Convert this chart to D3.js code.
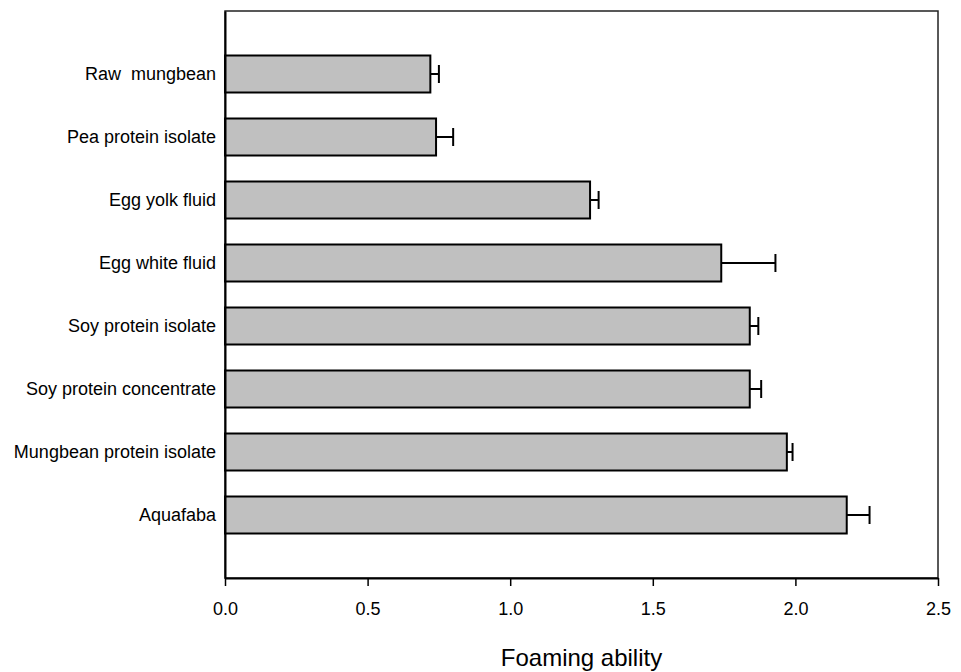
<!DOCTYPE html>
<html>
<head>
<meta charset="utf-8">
<script src="https://cdn.jsdelivr.net/npm/d3@7"></script>
<style>
  html, body { margin: 0; padding: 0; background: #fff; }
  text { font-family: "Liberation Sans", Arial, sans-serif; fill: #000; }
</style>
</head>
<body>
<svg id="chart" width="961" height="672"></svg>
<script>
// Foaming ability of protein sources (mean ± SD)
const categories = [
  "Raw  mungbean",
  "Pea protein isolate",
  "Egg yolk fluid",
  "Egg white fluid",
  "Soy protein isolate",
  "Soy protein concentrate",
  "Mungbean protein isolate",
  "Aquafaba"
];
const values = [0.72, 0.74, 1.28, 1.74, 1.84, 1.84, 1.97, 2.18];
const errors = [0.03, 0.06, 0.03, 0.19, 0.03, 0.04, 0.02, 0.08];
const xTicks = [0, 0.5, 1.0, 1.5, 2.0, 2.5];
const xTitle = "Foaming ability";

const svg = d3.select("#chart");
const plot = { left: 225, right: 938, top: 11, bottom: 578 };

const x = d3.scaleLinear().domain([0, 2.5]).range([plot.left, plot.right]);
const y = d3.scalePoint().domain(categories).range([plot.top, plot.bottom]).padding(1);
const barH = 37;
const capH = 18;

// plot frame (top and right)
svg.append("rect")
  .attr("x", plot.left).attr("y", plot.top)
  .attr("width", plot.right - plot.left).attr("height", plot.bottom - plot.top)
  .attr("fill", "none").attr("stroke", "#222").attr("stroke-width", 1.5);

// bars
svg.append("g").selectAll("rect")
  .data(categories)
  .join("rect")
  .attr("x", x(0))
  .attr("y", d => y(d) - barH / 2)
  .attr("width", (d, i) => x(values[i]) - x(0))
  .attr("height", barH)
  .attr("fill", "#c0c0c0")
  .attr("stroke", "#000")
  .attr("stroke-width", 2);

// error bars (upper side only)
const eb = svg.append("g").attr("stroke", "#000").attr("stroke-width", 2);
categories.forEach((c, i) => {
  const cy = y(c);
  eb.append("line")
    .attr("x1", x(values[i])).attr("x2", x(values[i] + errors[i]))
    .attr("y1", cy).attr("y2", cy);
  eb.append("line")
    .attr("x1", x(values[i] + errors[i])).attr("x2", x(values[i] + errors[i]))
    .attr("y1", cy - capH / 2).attr("y2", cy + capH / 2);
});

// x axis
const xAxis = svg.append("g")
  .attr("transform", `translate(0,${plot.bottom})`)
  .call(d3.axisBottom(x).tickValues(xTicks).tickFormat(d3.format(".1f")).tickSize(8).tickSizeOuter(0).tickPadding(16));
xAxis.select(".domain").attr("stroke", "#000").attr("stroke-width", 2);
xAxis.selectAll(".tick line").attr("stroke", "#000").attr("stroke-width", 1.5);
xAxis.selectAll(".tick text").attr("font-size", 18).attr("font-family", "Liberation Sans, Arial, sans-serif");

// y axis (labels only)
const yAxis = svg.append("g")
  .attr("transform", `translate(${plot.left},0)`)
  .call(d3.axisLeft(y).tickSize(0).tickPadding(9));
yAxis.select(".domain").attr("stroke", "#000").attr("stroke-width", 2);
yAxis.selectAll(".tick text").attr("font-size", 18).attr("font-family", "Liberation Sans, Arial, sans-serif")
  .style("white-space", "pre");

// x axis title
svg.append("text")
  .attr("x", (plot.left + plot.right) / 2)
  .attr("y", 666)
  .attr("text-anchor", "middle")
  .attr("font-size", 24)
  .text(xTitle);
</script>
</body>
</html>
